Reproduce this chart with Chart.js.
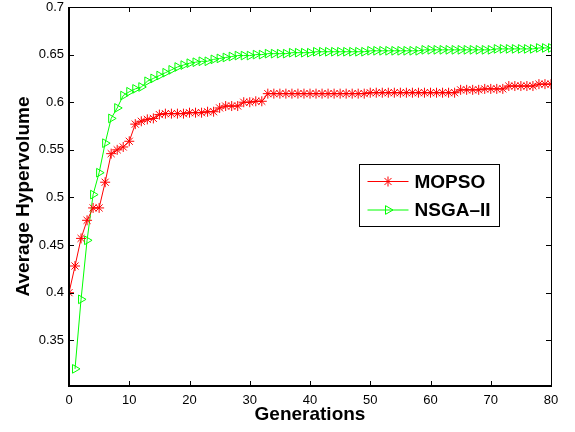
<!DOCTYPE html>
<html>
<head>
<meta charset="utf-8">
<script src="https://cdn.jsdelivr.net/npm/chart.js@4/dist/chart.umd.min.js"></script>
<style>
  html, body { margin: 0; padding: 0; background: #fff; }
  #wrap { width: 575px; height: 432px; }
</style>
</head>
<body>
<div id="wrap"><canvas id="myChart" width="575" height="432"></canvas></div>
<script>
// generations on the x axis
const generations = [
  0, 1, 2, 3, 4, 5, 6, 7, 8, 9, 10, 11, 12, 13, 14, 15, 16, 17, 18, 19, 20,
  21, 22, 23, 24, 25, 26, 27, 28, 29, 30, 31, 32, 33, 34, 35, 36, 37, 38, 39, 40,
  41, 42, 43, 44, 45, 46, 47, 48, 49, 50, 51, 52, 53, 54, 55, 56, 57, 58, 59, 60,
  61, 62, 63, 64, 65, 66, 67, 68, 69, 70, 71, 72, 73, 74, 75, 76, 77, 78, 79, 80
];

const mopso = [
  0.400, 0.428, 0.457, 0.476, 0.489, 0.489, 0.516, 0.546, 0.550, 0.553, 0.559,
  0.577, 0.580, 0.582, 0.583, 0.587, 0.588, 0.588, 0.588, 0.588, 0.589,
  0.589, 0.589, 0.590, 0.590, 0.594, 0.596, 0.596, 0.596, 0.600, 0.600,
  0.601, 0.601, 0.609, 0.609, 0.609, 0.609, 0.609, 0.609, 0.609, 0.609,
  0.609, 0.609, 0.609, 0.609, 0.609, 0.609, 0.609, 0.609, 0.609, 0.610,
  0.610, 0.610, 0.610, 0.610, 0.610, 0.610, 0.610, 0.610, 0.610, 0.610,
  0.610, 0.610, 0.610, 0.610, 0.613, 0.613, 0.613, 0.613, 0.614, 0.614,
  0.614, 0.614, 0.617, 0.617, 0.617, 0.617, 0.617, 0.619, 0.619, 0.619
];

// NSGA-II has no value at generation 0
const nsga2 = [
  null, 0.320, 0.393, 0.455, 0.503, 0.526, 0.557, 0.583, 0.594, 0.607, 0.611,
  0.614, 0.616, 0.622, 0.625, 0.628, 0.631, 0.634, 0.637, 0.639, 0.641,
  0.642, 0.643, 0.643, 0.645, 0.646, 0.647, 0.648, 0.649, 0.649, 0.649,
  0.650, 0.650, 0.651, 0.651, 0.651, 0.651, 0.652, 0.652, 0.652, 0.652,
  0.653, 0.653, 0.653, 0.653, 0.653, 0.653, 0.653, 0.653, 0.653, 0.654,
  0.654, 0.654, 0.654, 0.654, 0.654, 0.654, 0.654, 0.654, 0.655, 0.655,
  0.655, 0.655, 0.655, 0.655, 0.655, 0.655, 0.655, 0.655, 0.655, 0.655,
  0.656, 0.656, 0.656, 0.656, 0.656, 0.656, 0.656, 0.657, 0.657, 0.657
];

const seriesNames = ["MOPSO", "NSGA\u2013II"];
const xTicks = [0, 10, 20, 30, 40, 50, 60, 70, 80];
const yTicks = [0.35, 0.4, 0.45, 0.5, 0.55, 0.6, 0.65, 0.7];

const FONT = "'Liberation Sans', Arial, Helvetica, sans-serif";

function line(ctx, x1, y1, x2, y2) {
  ctx.beginPath();
  ctx.moveTo(x1, y1);
  ctx.lineTo(x2, y2);
  ctx.stroke();
}

// matlab style box with inward ticks on all four sides
const axesBox = {
  id: "axesBox",
  afterDatasetsDraw(chart) {
    const { ctx, chartArea: a, scales: { x, y } } = chart;
    ctx.save();
    ctx.strokeStyle = "#000";
    ctx.lineWidth = 1;
    xTicks.forEach(v => {
      const px = Math.round(x.getPixelForValue(v)) + 0.5;
      line(ctx, px, a.bottom, px, a.bottom - 5);
      line(ctx, px, a.top, px, a.top + 5);
    });
    yTicks.forEach(v => {
      const py = Math.round(y.getPixelForValue(v)) + 0.5;
      line(ctx, a.left, py, a.left + 5, py);
      line(ctx, a.right, py, a.right - 5, py);
    });
    ctx.strokeRect(Math.round(a.left) + 0.5, Math.round(a.top) + 0.5,
      Math.round(a.right - a.left), Math.round(a.bottom - a.top));
    ctx.lineWidth = 2;
    line(ctx, Math.round(a.left), a.top, Math.round(a.left), a.bottom + 1);
    line(ctx, a.left, Math.round(a.bottom), a.right + 1, Math.round(a.bottom));
    ctx.restore();
  }
};

// legend box inside the plot
const insideLegend = {
  id: "insideLegend",
  afterDraw(chart) {
    const { ctx, chartArea: a } = chart;
    const bx = a.left + 290.5, by = a.top + 157.5, bw = 140, bh = 62;
    ctx.save();
    ctx.fillStyle = "#fff";
    ctx.fillRect(bx, by, bw, bh);
    ctx.strokeStyle = "#000";
    ctx.lineWidth = 1;
    ctx.strokeRect(bx, by, bw, bh);
    chart.data.datasets.forEach((ds, i) => {
      const cy = by + 17 + i * 28.5;
      ctx.strokeStyle = ds.borderColor;
      ctx.lineWidth = 1;
      line(ctx, bx + 8, cy, bx + 49, cy);
      ctx.fillStyle = "rgba(0,0,0,0)";
      Chart.helpers.drawPoint(ctx, {
        pointStyle: ds.pointStyle,
        rotation: ds.pointRotation || 0,
        radius: ds.pointRadius,
        borderWidth: 1
      }, bx + 28.5, cy);
      ctx.fillStyle = "#000";
      ctx.font = "bold 19px " + FONT;
      ctx.textBaseline = "middle";
      ctx.textAlign = "left";
      ctx.fillText(seriesNames[i], bx + 55, cy + 1);
    });
    ctx.restore();
  }
};

new Chart(document.getElementById("myChart").getContext("2d"), {
  type: "line",
  data: {
    labels: generations,
    datasets: [
      {
        label: seriesNames[0],
        data: mopso,
        borderColor: "#ff0000",
        borderWidth: 1,
        pointStyle: "star",
        pointRadius: 5,
        pointBorderWidth: 1,
        pointBorderColor: "#ff0000",
        pointBackgroundColor: "rgba(0,0,0,0)",
        tension: 0,
        fill: false
      },
      {
        label: seriesNames[1],
        data: nsga2,
        borderColor: "#00ff00",
        borderWidth: 1,
        pointStyle: "triangle",
        pointRotation: 90,
        pointRadius: 5,
        pointBorderWidth: 1,
        pointBorderColor: "#00ff00",
        pointBackgroundColor: "rgba(0,0,0,0)",
        tension: 0,
        fill: false
      }
    ]
  },
  options: {
    responsive: false,
    animation: false,
    devicePixelRatio: 1,
    layout: { padding: { left: 0, top: 7, right: 24, bottom: 0 } },
    plugins: {
      legend: { display: false },
      tooltip: { enabled: false }
    },
    scales: {
      x: {
        type: "linear",
        min: 0,
        max: 80,
        grid: { display: false, drawTicks: false },
        border: { display: false },
        afterBuildTicks: s => { s.ticks = xTicks.map(v => ({ value: v })); },
        afterFit: s => { s.height = 46; s.paddingLeft = 0; s.paddingRight = 0; },
        ticks: {
          color: "#000",
          padding: 7,
          maxRotation: 0,
          font: { family: FONT, size: 13 }
        },
        title: {
          display: true,
          text: "Generations",
          color: "#000",
          padding: { top: 0, bottom: 6 },
          font: { family: FONT, size: 19, weight: "bold" }
        }
      },
      y: {
        type: "linear",
        min: 0.302,
        max: 0.7,
        grid: { display: false, drawTicks: false },
        border: { display: false },
        afterBuildTicks: s => { s.ticks = yTicks.map(v => ({ value: v })); },
        afterFit: s => { s.width = 69; s.paddingTop = 0; s.paddingBottom = 0; },
        ticks: {
          color: "#000",
          padding: 5,
          font: { family: FONT, size: 13 },
          callback: v => String(+v.toFixed(2))
        },
        title: {
          display: true,
          text: "Average Hypervolume",
          color: "#000",
          padding: { top: 12, bottom: 0 },
          font: { family: FONT, size: 19, weight: "bold" }
        }
      }
    }
  },
  plugins: [axesBox, insideLegend]
});
</script>
</body>
</html>
